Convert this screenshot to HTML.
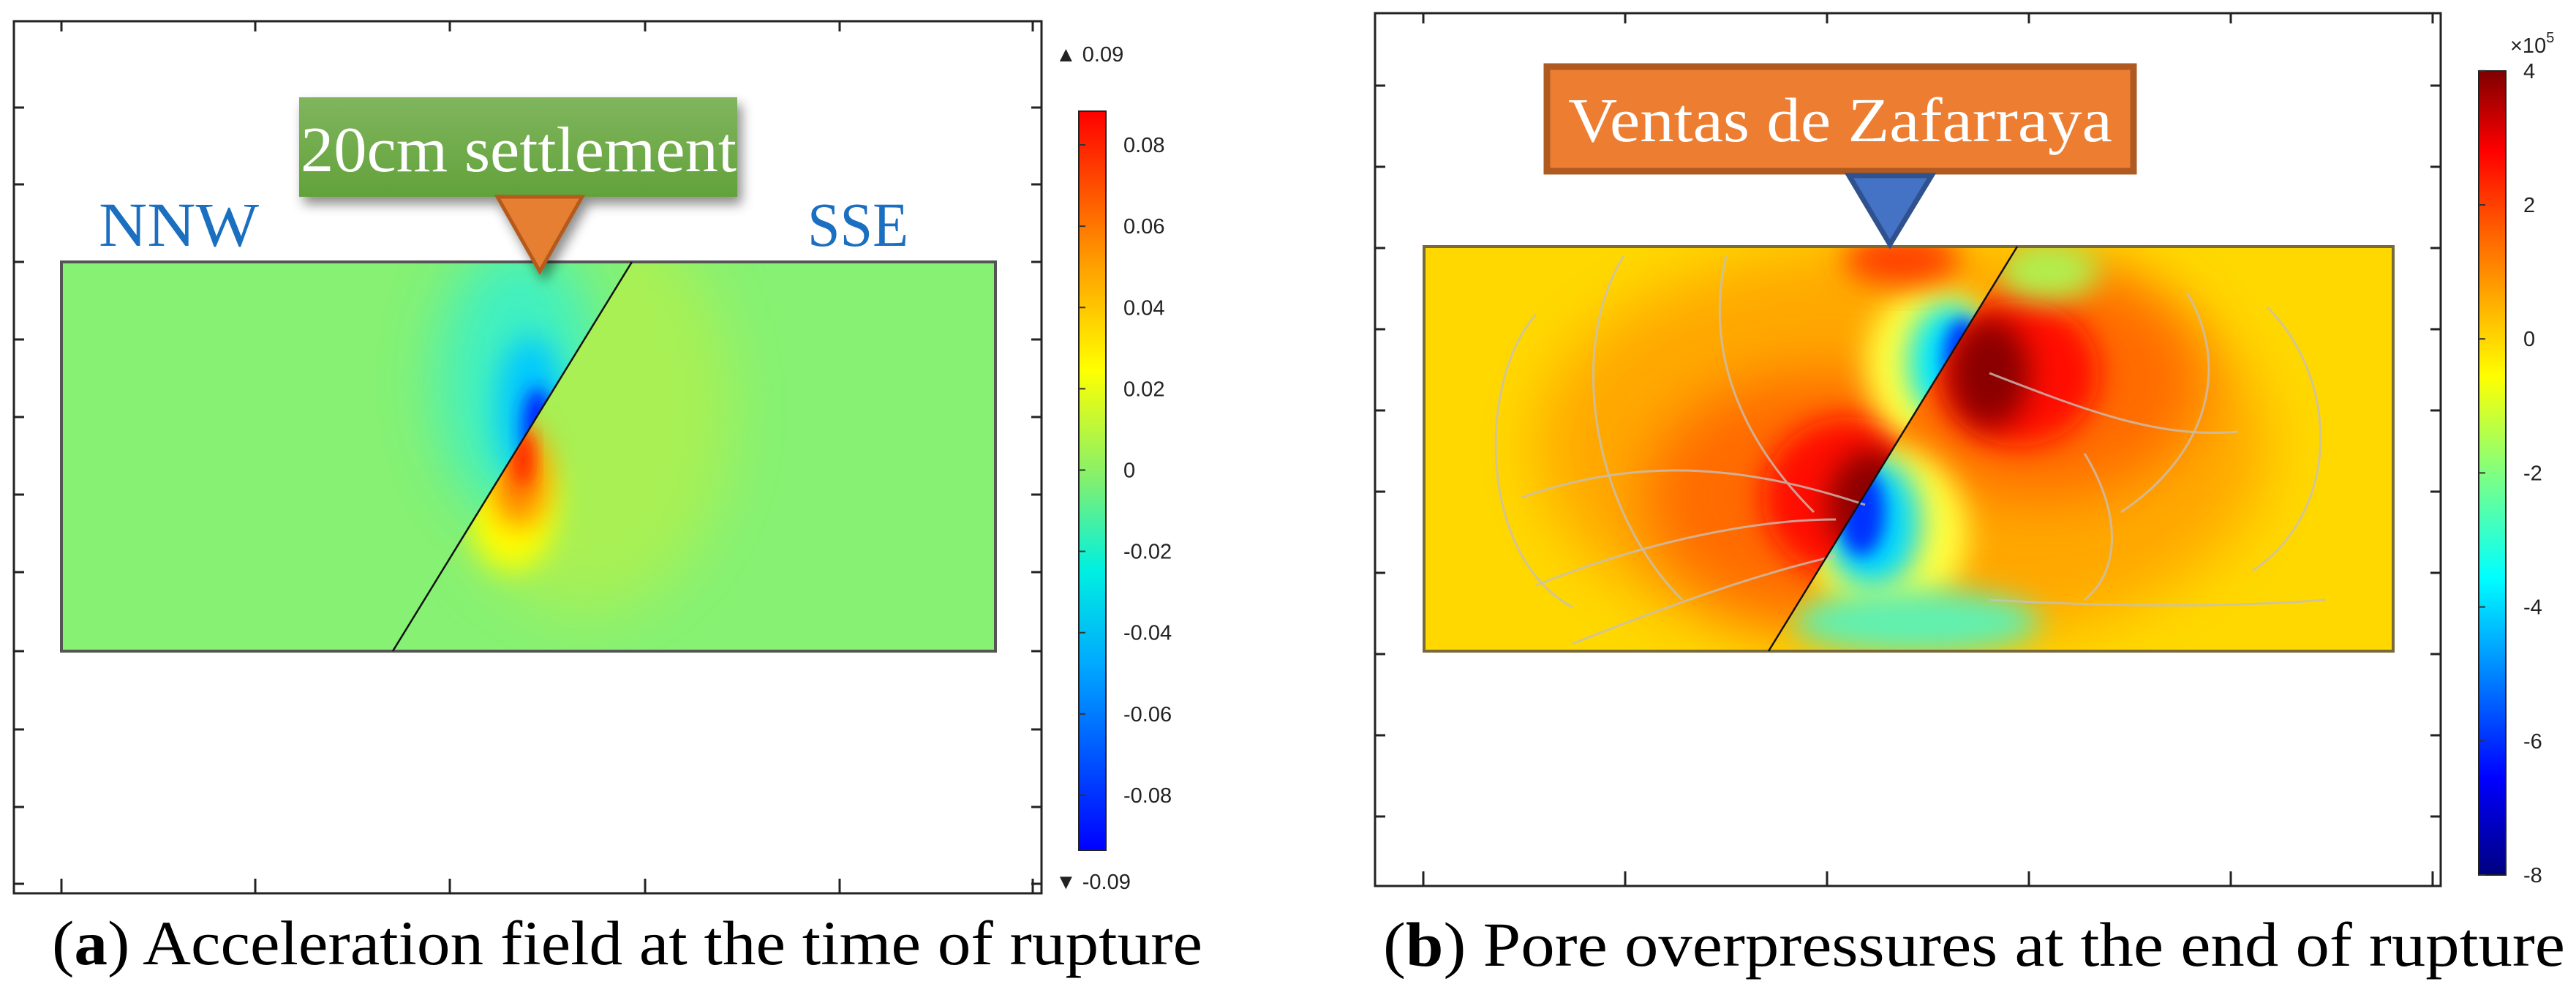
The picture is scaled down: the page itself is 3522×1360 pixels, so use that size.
<!DOCTYPE html>
<html><head><meta charset="utf-8">
<style>
html,body{margin:0;padding:0;background:#fff;}
svg{display:block;}
.cap{font-family:"Liberation Serif",serif;font-size:86px;fill:#000;}
.tk{font-family:"Liberation Sans",sans-serif;font-size:29px;fill:#222;}
</style></head>
<body>
<svg id="fig" width="3522" height="1360" viewBox="0 0 3522 1360" xmlns="http://www.w3.org/2000/svg">
<defs>
  <linearGradient id="jetA" x1="0" y1="1" x2="0" y2="0">
    <stop offset="0" stop-color="#0000ff"/><stop offset="0.25" stop-color="#00a8ff"/>
    <stop offset="0.38" stop-color="#00f0e0"/><stop offset="0.5" stop-color="#80f070"/>
    <stop offset="0.65" stop-color="#ffff00"/><stop offset="0.8" stop-color="#ff9900"/>
    <stop offset="1" stop-color="#ff0000"/>
  </linearGradient>
  <linearGradient id="jetB" x1="0" y1="1" x2="0" y2="0">
    <stop offset="0" stop-color="#00007f"/><stop offset="0.12" stop-color="#0000ff"/>
    <stop offset="0.37" stop-color="#00ffff"/><stop offset="0.5" stop-color="#80ff80"/>
    <stop offset="0.62" stop-color="#ffff00"/><stop offset="0.8" stop-color="#ff6000"/>
    <stop offset="0.9" stop-color="#ff0000"/><stop offset="1" stop-color="#7f0000"/>
  </linearGradient>
  <linearGradient id="greenBox" x1="0" y1="0" x2="0" y2="1">
    <stop offset="0" stop-color="#80b55e"/><stop offset="1" stop-color="#62a23a"/>
  </linearGradient>
  <filter id="blur40" x="-50%" y="-50%" width="200%" height="200%"><feGaussianBlur stdDeviation="40"/></filter>
  <filter id="blur20" x="-50%" y="-50%" width="200%" height="200%"><feGaussianBlur stdDeviation="20"/></filter>
  <filter id="blur12" x="-50%" y="-50%" width="200%" height="200%"><feGaussianBlur stdDeviation="12"/></filter>
  <filter id="shadow" x="-10%" y="-10%" width="130%" height="140%"><feDropShadow dx="6" dy="10" stdDeviation="8" flood-color="#000" flood-opacity="0.45"/></filter>
  <clipPath id="clipA"><rect x="84" y="358" width="1277" height="532"/></clipPath>
  <clipPath id="clipB"><rect x="1947" y="337" width="1325" height="553"/></clipPath>
  <clipPath id="clipBL"><polygon points="1947,337 2758,337 2418,890 1947,890"/></clipPath>
  <clipPath id="clipBR"><polygon points="2758,337 3272,337 3272,890 2418,890"/></clipPath>
  <clipPath id="clipAL"><polygon points="84,358 864,358 537,890 84,890"/></clipPath>
  <clipPath id="clipAR"><polygon points="864,358 1361,358 1361,890 537,890"/></clipPath>
</defs>

<!-- Panel A -->
<g>
  <rect x="19" y="29" width="1405" height="1192" fill="#fff" stroke="#222" stroke-width="3"/>
  <g id="ticksA" stroke="#222" stroke-width="3"></g>
  <g clip-path="url(#clipA)">
    <rect x="84" y="358" width="1277" height="532" fill="#86f173"/>
    <g clip-path="url(#clipAL)">
      <ellipse cx="710" cy="520" rx="110" ry="190" fill="#30f0d0" filter="url(#blur40)" opacity="0.85"/>
      <ellipse cx="725" cy="560" rx="45" ry="100" fill="#00c8ff" filter="url(#blur20)"/>
      <ellipse cx="735" cy="585" rx="20" ry="55" fill="#0020ff" filter="url(#blur12)"/>
    </g>
    <g clip-path="url(#clipAR)">
      <ellipse cx="800" cy="560" rx="200" ry="280" fill="#c0f040" filter="url(#blur40)" opacity="0.6"/>
      <ellipse cx="700" cy="690" rx="60" ry="90" fill="#ffff00" filter="url(#blur20)"/>
      <ellipse cx="710" cy="650" rx="38" ry="70" fill="#ff8000" filter="url(#blur20)"/>
      <ellipse cx="715" cy="625" rx="14" ry="40" fill="#ff2000" filter="url(#blur12)"/>
    </g>
  </g>
  <rect x="84" y="358" width="1277" height="532" fill="none" stroke="#555" stroke-width="4"/>
  <line x1="537" y1="890" x2="864" y2="358" stroke="#111" stroke-width="2.5"/>
  <text x="135" y="336" font-family="Liberation Serif,serif" font-size="86" fill="#1a6fc0" textLength="219" lengthAdjust="spacingAndGlyphs">NNW</text>
  <text x="1104" y="336" font-family="Liberation Serif,serif" font-size="86" fill="#1a6fc0" textLength="138" lengthAdjust="spacingAndGlyphs">SSE</text>
  <g filter="url(#shadow)">
    <rect x="409" y="133" width="599" height="136" fill="url(#greenBox)"/>
    <polygon points="680,269 796,269 738,371" fill="#e77f33" stroke="#b35a1c" stroke-width="5"/>
  </g>
  <text x="709" y="234" text-anchor="middle" font-family="Liberation Serif,serif" font-size="88" fill="#fff" textLength="596" lengthAdjust="spacingAndGlyphs">20cm settlement</text>
  <rect x="1475" y="152" width="37" height="1010" fill="url(#jetA)" stroke="#222" stroke-width="2"/>
  <g id="cbTicksA"></g>
  <text class="tk" x="1443" y="84">▲ 0.09</text>
  <text class="tk" x="1443" y="1215">▼ -0.09</text>
  <text class="cap" x="71" y="1318" textLength="1573" lengthAdjust="spacingAndGlyphs">(<tspan font-weight="bold">a</tspan>) Acceleration field at the time of rupture</text>
</g>

<!-- Panel B -->
<g>
  <rect x="1880" y="18" width="1457" height="1193" fill="#fff" stroke="#222" stroke-width="3"/>
  <g id="ticksB" stroke="#222" stroke-width="3"></g>
  <g clip-path="url(#clipB)">
    <rect x="1947" y="337" width="1325" height="553" fill="#ffd800"/>
    <ellipse cx="2600" cy="610" rx="500" ry="280" fill="#ffa000" filter="url(#blur40)" opacity="0.85"/>
    <g clip-path="url(#clipBL)">
      <ellipse cx="2490" cy="680" rx="240" ry="170" fill="#ff6a00" filter="url(#blur40)"/>
      <ellipse cx="2530" cy="680" rx="120" ry="110" fill="#ff1000" filter="url(#blur20)"/>
      <ellipse cx="2560" cy="690" rx="60" ry="75" fill="#8a0000" filter="url(#blur20)"/>
      <ellipse cx="2640" cy="500" rx="90" ry="110" fill="#ffff40" filter="url(#blur20)"/>
      <ellipse cx="2665" cy="495" rx="55" ry="80" fill="#00e8ff" filter="url(#blur20)"/>
      <ellipse cx="2685" cy="490" rx="28" ry="55" fill="#0030ff" filter="url(#blur12)"/>
      <ellipse cx="2600" cy="355" rx="80" ry="35" fill="#ff4000" filter="url(#blur20)"/>
    </g>
    <g clip-path="url(#clipBR)">
      <ellipse cx="2790" cy="520" rx="220" ry="160" fill="#ff6a00" filter="url(#blur40)"/>
      <ellipse cx="2760" cy="510" rx="110" ry="100" fill="#ff1000" filter="url(#blur20)"/>
      <ellipse cx="2720" cy="510" rx="55" ry="75" fill="#8a0000" filter="url(#blur20)"/>
      <ellipse cx="2580" cy="730" rx="110" ry="120" fill="#ffff40" filter="url(#blur20)"/>
      <ellipse cx="2560" cy="715" rx="65" ry="90" fill="#00d8ff" filter="url(#blur20)"/>
      <ellipse cx="2545" cy="700" rx="32" ry="60" fill="#0030ff" filter="url(#blur12)"/>
      <ellipse cx="2620" cy="850" rx="170" ry="45" fill="#60f0b0" filter="url(#blur20)"/>
      <ellipse cx="2800" cy="370" rx="70" ry="40" fill="#b0f050" filter="url(#blur20)"/>
    </g>
    <g fill="none" stroke="#c8c0b8" stroke-width="3" opacity="0.8">
      <path d="M2100,430 C2020,520 2020,760 2150,830"/>
      <path d="M2220,350 C2140,480 2180,700 2300,820"/>
      <path d="M2360,350 C2330,480 2380,600 2480,700"/>
      <path d="M2080,680 C2250,620 2400,640 2550,690"/>
      <path d="M2100,800 C2250,740 2400,710 2510,710"/>
      <path d="M2150,880 C2300,820 2420,780 2510,760"/>
      <path d="M2720,510 C2850,560 2950,600 3060,590"/>
      <path d="M2990,400 C3050,500 3020,620 2900,700"/>
      <path d="M3100,420 C3200,520 3200,700 3080,780"/>
      <path d="M2720,820 C2900,830 3050,830 3180,820"/>
      <path d="M2850,620 C2900,700 2900,780 2850,820"/>
    </g>
  </g>
  <rect x="1947" y="337" width="1325" height="553" fill="none" stroke="#7a6a3a" stroke-width="4"/>
  <line x1="2418" y1="890" x2="2758" y2="337" stroke="#111" stroke-width="2.5"/>
  <g>
    <rect x="2115" y="91" width="802" height="143" fill="#ed7d31" stroke="#ae5a21" stroke-width="9"/>
    <polygon points="2528,240 2641,240 2584,334" fill="#4472c4" stroke="#2f528f" stroke-width="7"/>
  </g>
  <text x="2144" y="193" font-family="Liberation Serif,serif" font-size="86" fill="#fff" textLength="744" lengthAdjust="spacingAndGlyphs">Ventas de Zafarraya</text>
  <rect x="3389" y="97" width="37" height="1099" fill="url(#jetB)" stroke="#222" stroke-width="2"/>
  <g id="cbTicksB"></g>
  <text class="tk" x="3432" y="72" font-size="28">×10<tspan dy="-14" font-size="20">5</tspan></text>
  <text class="cap" x="1891" y="1320" textLength="1616" lengthAdjust="spacingAndGlyphs">(<tspan font-weight="bold">b</tspan>) Pore overpressures at the end of rupture</text>
</g>
</svg>
<script>
const NS='http://www.w3.org/2000/svg';
const cbValuesA=[0.08,0.06,0.04,0.02,0,-0.02,-0.04,-0.06,-0.08];
const cbLabelsA=['0.08','0.06','0.04','0.02','0','-0.02','-0.04','-0.06','-0.08'];
const cbValuesB=[4,2,0,-2,-4,-6,-8];
const cbLabelsB=['4','2','0','-2','-4','-6','-8'];
const frameTicksA_y=[147,252,358,464,570,676,782,890,997,1103,1208];
const frameTicksA_x=[84,349,615,882,1148,1412];
const frameTicksB_y=[117,228,339,450,561,672,783,894,1005,1116];
const frameTicksB_x=[1946,2222,2498,2774,3050,3326];
function yA(v){return 642.5 - v*5556;}
function yB(v){return 280 + (2 - v)*91.6;}
function mk(tag,attrs,parent){const e=document.createElementNS(NS,tag);for(const k in attrs)e.setAttribute(k,attrs[k]);parent.appendChild(e);return e;}
const gA=document.getElementById('cbTicksA');
cbValuesA.forEach((v,i)=>{
  const y=yA(v);
  const l=mk('line',{x1:1475,x2:1484,y1:y,y2:y,stroke:'#333','stroke-width':2},gA);
  
  
  const t=mk('text',{x:1536,y:y+10,class:'tk'},gA);
  t.textContent=cbLabelsA[i];
  
  
});
const gB=document.getElementById('cbTicksB');
cbValuesB.forEach((v,i)=>{
  const y=yB(v);
  const l=mk('line',{x1:3389,x2:3398,y1:y,y2:y,stroke:'#333','stroke-width':2},gB);
  
  
  const t=mk('text',{x:3450,y:y+10,class:'tk'},gB);
  t.textContent=cbLabelsB[i];
  
  
});
function frameTicks(g,xs,ys,x0,x1,y0,y1){
  ys.forEach(y=>{
    const a=mk('line',{x1:x0,x2:x0+14,y1:y,y2:y},g);
    
    
    const b=mk('line',{x1:x1-14,x2:x1,y1:y,y2:y},g);
    
    
  });
  xs.forEach(x=>{
    const a=mk('line',{x1:x,x2:x,y1:y0,y2:y0+14},g);
    
    
    const b=mk('line',{x1:x,x2:x,y1:y1-20,y2:y1},g);
    
    
  });
}
frameTicks(document.getElementById('ticksA'),frameTicksA_x,frameTicksA_y,19,1424,29,1221);
frameTicks(document.getElementById('ticksB'),frameTicksB_x,frameTicksB_y,1880,3337,18,1211);
</script>
</body></html>
